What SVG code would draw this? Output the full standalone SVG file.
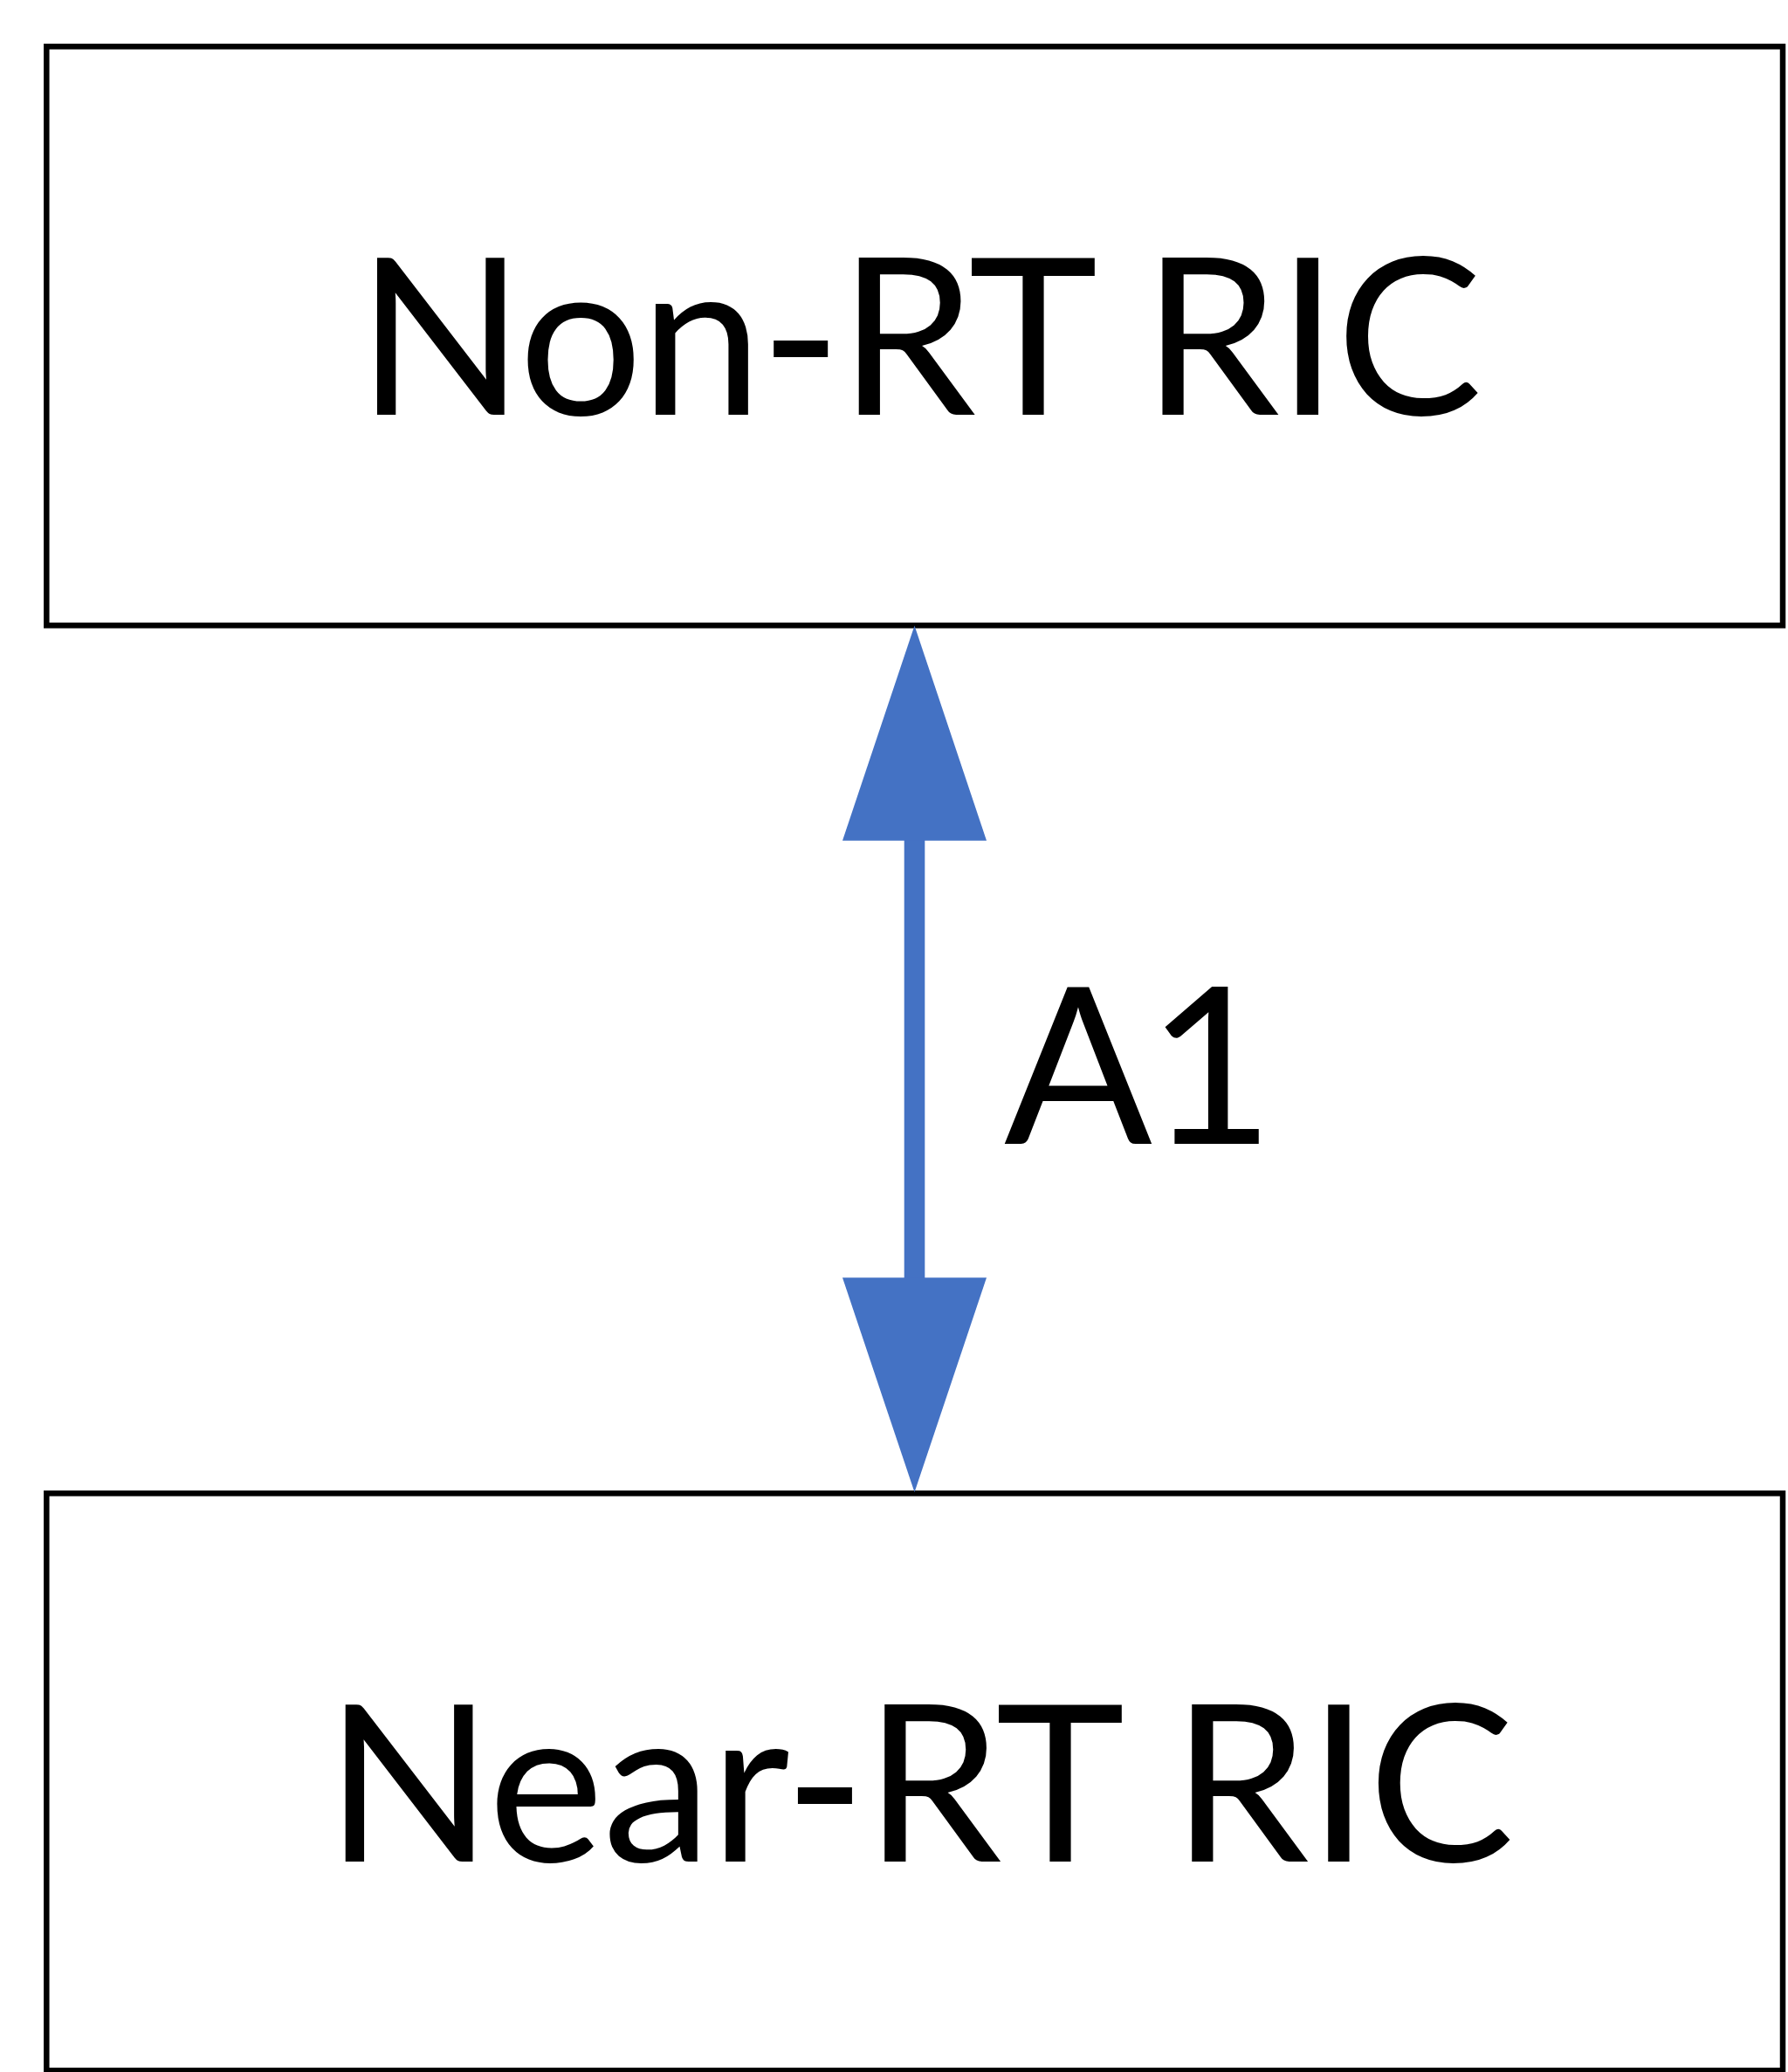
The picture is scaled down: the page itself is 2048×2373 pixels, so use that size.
<svg xmlns="http://www.w3.org/2000/svg" width="2048" height="2373" viewBox="0 0 2048 2373">
<style>
.box{fill:#fff;stroke:#000;stroke-width:6.5}
.lbl{font-family:Lato,"Noto Sans",sans-serif;font-size:251px;fill:#000}
.arr{fill:#4472C4}
</style>
<rect width="2048" height="2373" fill="#fff"/>
<g id="non-rt-ric">
<rect class="box" x="53.3" y="53.3" width="1988.7" height="663"/>
<text class="lbl" x="1052" y="475" text-anchor="middle" letter-spacing="-2.9">Non-RT RIC</text>
</g>
<g id="near-rt-ric">
<rect class="box" x="53.3" y="1710.3" width="1988.7" height="661"/>
<text class="lbl" x="1053" y="2132" text-anchor="middle" letter-spacing="-1.4">Near-RT RIC</text>
</g>
<g id="connectors">
<rect class="arr" x="1035.7" y="960" width="23.6" height="506"/>
<polygon class="arr" points="1047.5,716.5 1130,962.7 965,962.7"/>
<polygon class="arr" points="1047.5,1709 1130,1463.3 965,1463.3"/>
<text class="lbl" x="1150" y="1310" letter-spacing="-6">A1</text>
</g>
</svg>
